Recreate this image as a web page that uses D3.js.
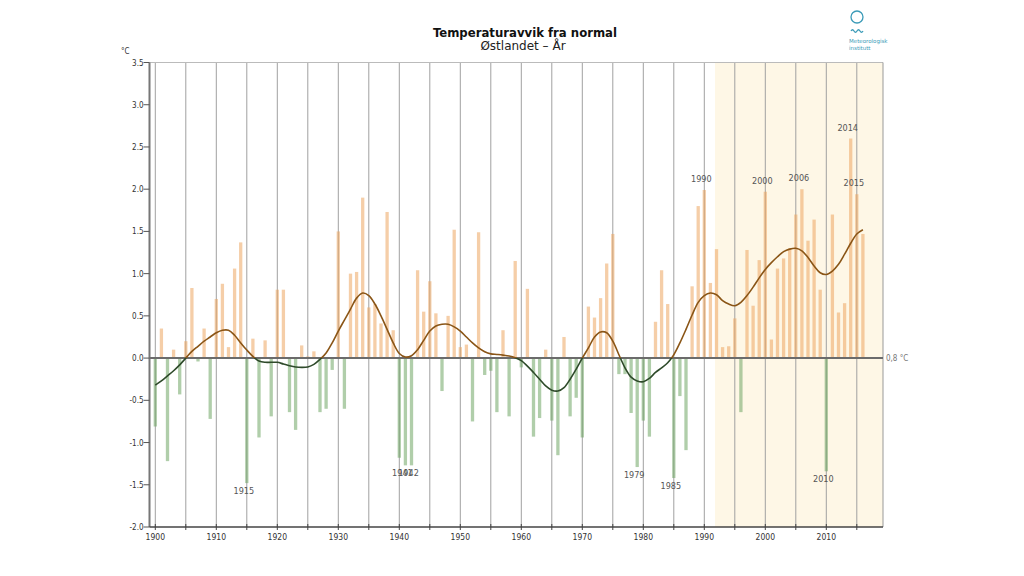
<!DOCTYPE html>
<html><head><meta charset="utf-8">
<script src="https://cdn.jsdelivr.net/npm/d3@7/dist/d3.min.js"></script>
<style>body{margin:0;background:#fff}svg{display:block}</style>
</head><body>
<svg id="c" width="1024" height="576"></svg>
<script>
const firstYear = 1900;
const lastYear = 2016;
const years = d3.range(firstYear, lastYear + 1);
const anomaly = [
 -0.81,0.35,-1.22,0.10,-0.43,0.20,0.83,-0.04,0.35,-0.72,
 0.70,0.88,0.13,1.06,1.37,-1.48,0.23,-0.94,0.21,-0.69,
 0.81,0.81,-0.64,-0.85,0.15,0.02,0.08,-0.64,-0.60,-0.14,
 1.50,-0.60,1.00,1.02,1.90,0.60,0.64,0.41,1.73,0.33,
 -1.18,-1.27,-1.27,1.04,0.55,0.91,0.53,-0.39,0.50,1.52,
 0.13,0.16,-0.75,1.49,-0.20,-0.15,-0.64,0.33,-0.69,1.15,
 -0.11,0.82,-0.93,-0.71,0.10,-0.74,-1.15,0.25,-0.69,-0.47,
 -0.94,0.61,0.48,0.71,1.12,1.47,-0.19,-0.19,-0.65,-1.29,
 -0.74,-0.93,0.43,1.04,0.64,-1.42,-0.45,-1.09,0.85,1.80,
 1.99,0.89,1.29,0.13,0.14,0.47,-0.64,1.28,0.62,1.16,
 1.97,0.22,1.06,1.18,1.30,1.70,2.00,1.39,1.64,0.81,
 -1.34,1.70,0.54,0.65,2.60,1.94,1.47
];
const smooth = [
 -0.32,-0.27,-0.21,-0.15,-0.08,0.00,0.08,0.14,0.20,0.25,
 0.30,0.33,0.33,0.27,0.18,0.095,0.02,-0.035,-0.05,-0.05,
 -0.05,-0.07,-0.09,-0.105,-0.11,-0.105,-0.075,-0.015,0.06,0.18,
 0.32,0.45,0.58,0.71,0.77,0.74,0.64,0.50,0.34,0.18,
 0.055,0.012,0.028,0.10,0.21,0.32,0.38,0.40,0.40,0.37,
 0.32,0.25,0.18,0.12,0.075,0.05,0.043,0.035,0.024,0.004,
 -0.03,-0.095,-0.17,-0.25,-0.33,-0.38,-0.39,-0.35,-0.25,-0.13,
 0.00,0.12,0.25,0.31,0.30,0.20,0.04,-0.115,-0.225,-0.27,
 -0.28,-0.24,-0.17,-0.115,-0.055,0.04,0.18,0.34,0.51,0.66,
 0.74,0.77,0.75,0.68,0.64,0.62,0.66,0.74,0.84,0.95,
 1.05,1.13,1.20,1.26,1.29,1.30,1.27,1.19,1.09,1.01,
 0.99,1.03,1.11,1.23,1.36,1.47,1.52
];
const yTicks = [3.5,3.0,2.5,2.0,1.5,1.0,0.5,0.0,-0.5,-1.0,-1.5,-2.0];
const xLabelYears = [1900,1910,1920,1930,1940,1950,1960,1970,1980,1990,2000,2010];
const gridYears = d3.range(1900, 2016, 5);
const labelsAbove = [1990,2000,2006,2014,2015];
const labelsBelow = [1915,1941,1942,1979,1985,2010];
const shadeStart = 1991.75;
const normalLabel = "0,8 °C";
const title = "Temperaturavvik fra normal";
const subtitle = "Østlandet – År";

const svg = d3.select("#c");
const L = 149.5, R = 883, T = 62.5, B = 527;
const x = d3.scaleLinear().domain([1900, 2010]).range([155.3, 826.3]);
const y = d3.scaleLinear().domain([-2, 3.5]).range([B, T]);

// shaded period
svg.append("rect").attr("x", x(shadeStart)).attr("y", T)
  .attr("width", R - x(shadeStart)).attr("height", B - T).attr("fill", "#fef7e6");

// vertical grid
svg.append("g").selectAll("line").data(gridYears).join("line")
  .attr("x1", d => x(d)).attr("x2", d => x(d)).attr("y1", T).attr("y2", B)
  .attr("stroke", "#a0a0a0").attr("stroke-width", 1);
svg.append("line").attr("x1", L).attr("x2", R).attr("y1", T).attr("y2", T).attr("stroke", "#bbb");
svg.append("line").attr("x1", R).attr("x2", R).attr("y1", T).attr("y2", B).attr("stroke", "#999");

// bars
const bw = 3.3;
svg.append("g").selectAll("rect").data(years).join("rect")
  .attr("x", d => x(d) - bw/2)
  .attr("y", (d,i) => anomaly[i] >= 0 ? y(anomaly[i]) : y(0))
  .attr("width", bw)
  .attr("height", (d,i) => Math.abs(y(anomaly[i]) - y(0)))
  .attr("fill", (d,i) => anomaly[i] >= 0 ? "#eca661" : "#6fa564")
  .attr("fill-opacity", 0.55);

// zero line
svg.append("line").attr("x1", L).attr("x2", R).attr("y1", y(0)).attr("y2", y(0))
  .attr("stroke", "#6b6b6b").attr("stroke-width", 2);
svg.append("text").attr("x", R + 3).attr("y", y(0) + 3).attr("font-family", "DejaVu Sans Condensed")
  .attr("font-size", 8).attr("fill", "#777").text(normalLabel);

// smoothed curve
const defs = svg.append("defs");
defs.append("clipPath").attr("id", "above").append("rect")
  .attr("x", 0).attr("y", 0).attr("width", 1024).attr("height", y(0));
defs.append("clipPath").attr("id", "below").append("rect")
  .attr("x", 0).attr("y", y(0)).attr("width", 1024).attr("height", 576);
const line = d3.line().x((d,i) => x(years[i])).y(d => y(d)).curve(d3.curveCatmullRom);
svg.append("path").datum(smooth).attr("d", line).attr("fill", "none")
  .attr("stroke", "#8a5516").attr("stroke-width", 1.6).attr("clip-path", "url(#above)");
svg.append("path").datum(smooth).attr("d", line).attr("fill", "none")
  .attr("stroke", "#2e4a2a").attr("stroke-width", 1.6).attr("clip-path", "url(#below)");

// year annotations
const ann = svg.append("g").attr("font-family", "DejaVu Sans Condensed").attr("font-size", 9)
  .attr("fill", "#555").attr("text-anchor", "middle");
labelsAbove.forEach(yr => {
  const v = anomaly[years.indexOf(yr)];
  ann.append("text").attr("x", x(yr) - 3).attr("y", y(v) - 8).text(yr);
});
labelsBelow.forEach(yr => {
  const v = anomaly[years.indexOf(yr)];
  ann.append("text").attr("x", x(yr) - 3).attr("y", y(v) + 11).text(yr);
});

// y axis
svg.append("line").attr("x1", L).attr("x2", L).attr("y1", T).attr("y2", B)
  .attr("stroke", "#777").attr("stroke-width", 2);
const ya = svg.append("g");
ya.selectAll("line").data(yTicks).join("line")
  .attr("x1", L - 6).attr("x2", L).attr("y1", d => y(d)).attr("y2", d => y(d))
  .attr("stroke", "#555");
ya.selectAll("text").data(yTicks).join("text")
  .attr("x", L - 6).attr("y", d => y(d) + 3).attr("text-anchor", "end")
  .attr("font-family", "DejaVu Sans Condensed").attr("font-size", 8).attr("fill", "#333")
  .text(d => d.toFixed(1));
svg.append("text").attr("x", 121).attr("y", 54).attr("font-family", "DejaVu Sans Condensed")
  .attr("font-size", 8).attr("fill", "#333").text("°C");

// x axis
svg.append("line").attr("x1", L).attr("x2", R).attr("y1", B).attr("y2", B)
  .attr("stroke", "#444").attr("stroke-width", 1.5);
svg.append("g").selectAll("line").data(gridYears).join("line")
  .attr("x1", d => x(d)).attr("x2", d => x(d)).attr("y1", B - 3).attr("y2", B + 3)
  .attr("stroke", "#444");
svg.append("g").selectAll("text").data(xLabelYears).join("text")
  .attr("x", d => x(d)).attr("y", B + 13).attr("text-anchor", "middle")
  .attr("font-family", "DejaVu Sans Condensed").attr("font-size", 8.5).attr("fill", "#333")
  .text(d => d);

// titles
svg.append("text").attr("x", 525).attr("y", 37).attr("text-anchor", "middle")
  .attr("font-family", "DejaVu Sans Condensed").attr("font-weight", "bold").attr("font-size", 13)
  .attr("fill", "#111").text(title);
svg.append("text").attr("x", 523).attr("y", 50).attr("text-anchor", "middle")
  .attr("font-family", "DejaVu Sans").attr("font-size", 12)
  .attr("fill", "#222").text(subtitle);

// logo
const lg = svg.append("g").attr("fill", "none").attr("stroke", "#3b9bb8").attr("stroke-width", 1.3);
lg.append("circle").attr("cx", 857).attr("cy", 17).attr("r", 6);
lg.append("path").attr("d", "M851,31 q1.5,-2.5 3,0 t3,0 t3,0 t3,0");
svg.append("text").attr("x", 849).attr("y", 43).attr("font-family", "DejaVu Sans").attr("font-size", 5.5)
  .attr("fill", "#3b9bb8").text("Meteorologisk");
svg.append("text").attr("x", 849).attr("y", 50).attr("font-family", "DejaVu Sans").attr("font-size", 5.5)
  .attr("fill", "#3b9bb8").text("institutt");
</script>
</body></html>
